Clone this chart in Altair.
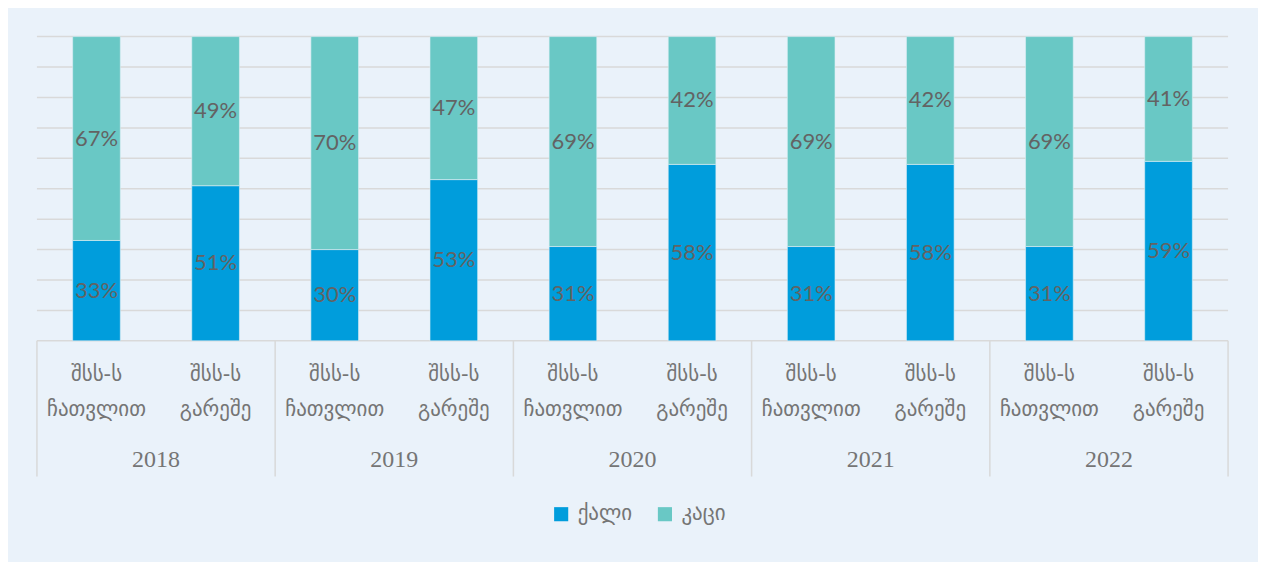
import altair as alt
import pandas as pd

years = ["2018", "2019", "2020", "2021", "2022"]
cat_line1 = ["შსს-ს", "შსს-ს"]
cat_line2 = ["ჩათვლით", "გარეშე"]
female = [33, 51, 30, 53, 31, 58, 31, 58, 31, 59]
male = [67, 49, 70, 47, 69, 42, 69, 42, 69, 41]
series = ["ქალი", "კაცი"]
colors = ["#009DDC", "#69C8C5"]
grid_ticks = [0.0, 0.1, 0.2, 0.3, 0.4, 0.5, 0.6, 0.7, 0.8, 0.9, 1.0]

rows = []
for i in range(10):
    rows.append({"idx": i, "series": series[0], "order": 0, "value": female[i] / 100})
    rows.append({"idx": i, "series": series[1], "order": 1, "value": male[i] / 100})
df = pd.DataFrame(rows)

cats = pd.DataFrame({
    "idx": list(range(10)),
    "l1": [cat_line1[i % 2] for i in range(10)],
    "l2": [cat_line2[i % 2] for i in range(10)],
})
yrs = pd.DataFrame({"gidx": list(range(5)), "year": years})
seps = pd.DataFrame({"b": [0, 2, 4, 6, 8, 10]})
grid = pd.DataFrame({"g": grid_ticks})

W, H = 1194, 305
xscale = alt.Scale(domain=[0, 10], nice=False, zero=False)
yscale = alt.Scale(domain=[0, 1], nice=False)

gridrules = alt.Chart(grid).mark_rule(color="#D9D9D9", strokeWidth=1.5).encode(
    y=alt.Y("g:Q", scale=yscale, axis=None),
    x=alt.value(0), x2=alt.value(W),
)

bars = alt.Chart(df).transform_calculate(
    x0="datum.idx + 0.3", x1="datum.idx + 0.7"
).transform_stack(
    stack="value", groupby=["idx"], as_=["y0", "y1"], sort=[alt.SortField("order")]
).mark_bar(stroke="#DDEFF5", strokeWidth=0.6).encode(
    x=alt.X("x0:Q", scale=xscale, axis=None),
    x2="x1:Q",
    y=alt.Y("y0:Q", scale=yscale, axis=None),
    y2="y1:Q",
    color=alt.Color("series:N", scale=alt.Scale(domain=series, range=colors),
                    sort=series,
                    legend=alt.Legend(title=None, orient="none", direction="horizontal",
                                      legendX=515, legendY=468,
                                      symbolType="square", symbolSize=200,
                                      symbolStrokeWidth=0,
                                      labelFont="DejaVu Sans", labelFontSize=21,
                                      labelColor="#757575", columnPadding=22,
                                      labelOffset=6)),
)

labels = alt.Chart(df).transform_calculate(
    xc="datum.idx + 0.5"
).transform_stack(
    stack="value", groupby=["idx"], as_=["y0", "y1"], sort=[alt.SortField("order")]
).transform_calculate(
    ym="(datum.y0 + datum.y1) / 2",
    lab="round(datum.value * 100) + '%'"
).mark_text(font="Lato", fontSize=22, color="#636363", baseline="middle").encode(
    x=alt.X("xc:Q", scale=xscale, axis=None),
    y=alt.Y("ym:Q", scale=yscale, axis=None),
    text="lab:N",
)

cat1 = alt.Chart(cats).transform_calculate(xc="datum.idx + 0.5").mark_text(
    font="DejaVu Sans", fontSize=21, color="#757575", baseline="middle"
).encode(x=alt.X("xc:Q", scale=xscale, axis=None), y=alt.value(H + 34), text="l1:N")

cat2 = alt.Chart(cats).transform_calculate(xc="datum.idx + 0.5").mark_text(
    font="DejaVu Sans", fontSize=21, color="#757575", baseline="middle"
).encode(x=alt.X("xc:Q", scale=xscale, axis=None), y=alt.value(H + 69), text="l2:N")

yrtext = alt.Chart(yrs).transform_calculate(xc="datum.gidx * 2 + 1").mark_text(
    font="Liberation Serif", fontSize=24, color="#757575", baseline="middle"
).encode(x=alt.X("xc:Q", scale=xscale, axis=None), y=alt.value(H + 119), text="year:N")

seprule = alt.Chart(seps).mark_rule(color="#D9D9D9", strokeWidth=1.5).encode(
    x=alt.X("b:Q", scale=xscale, axis=None), y=alt.value(H), y2=alt.value(H + 136)
)

chart = alt.layer(gridrules, bars, labels, cat1, cat2, yrtext, seprule).properties(
    width=W, height=H,
    autosize=alt.AutoSizeParams(type="none"),
    padding={"left": 29, "top": 28, "right": 30, "bottom": 221},
    background="#EAF2FA",
).configure_view(stroke=None)

chart.save("out.html", embed_options={"renderer": "svg", "actions": False})
